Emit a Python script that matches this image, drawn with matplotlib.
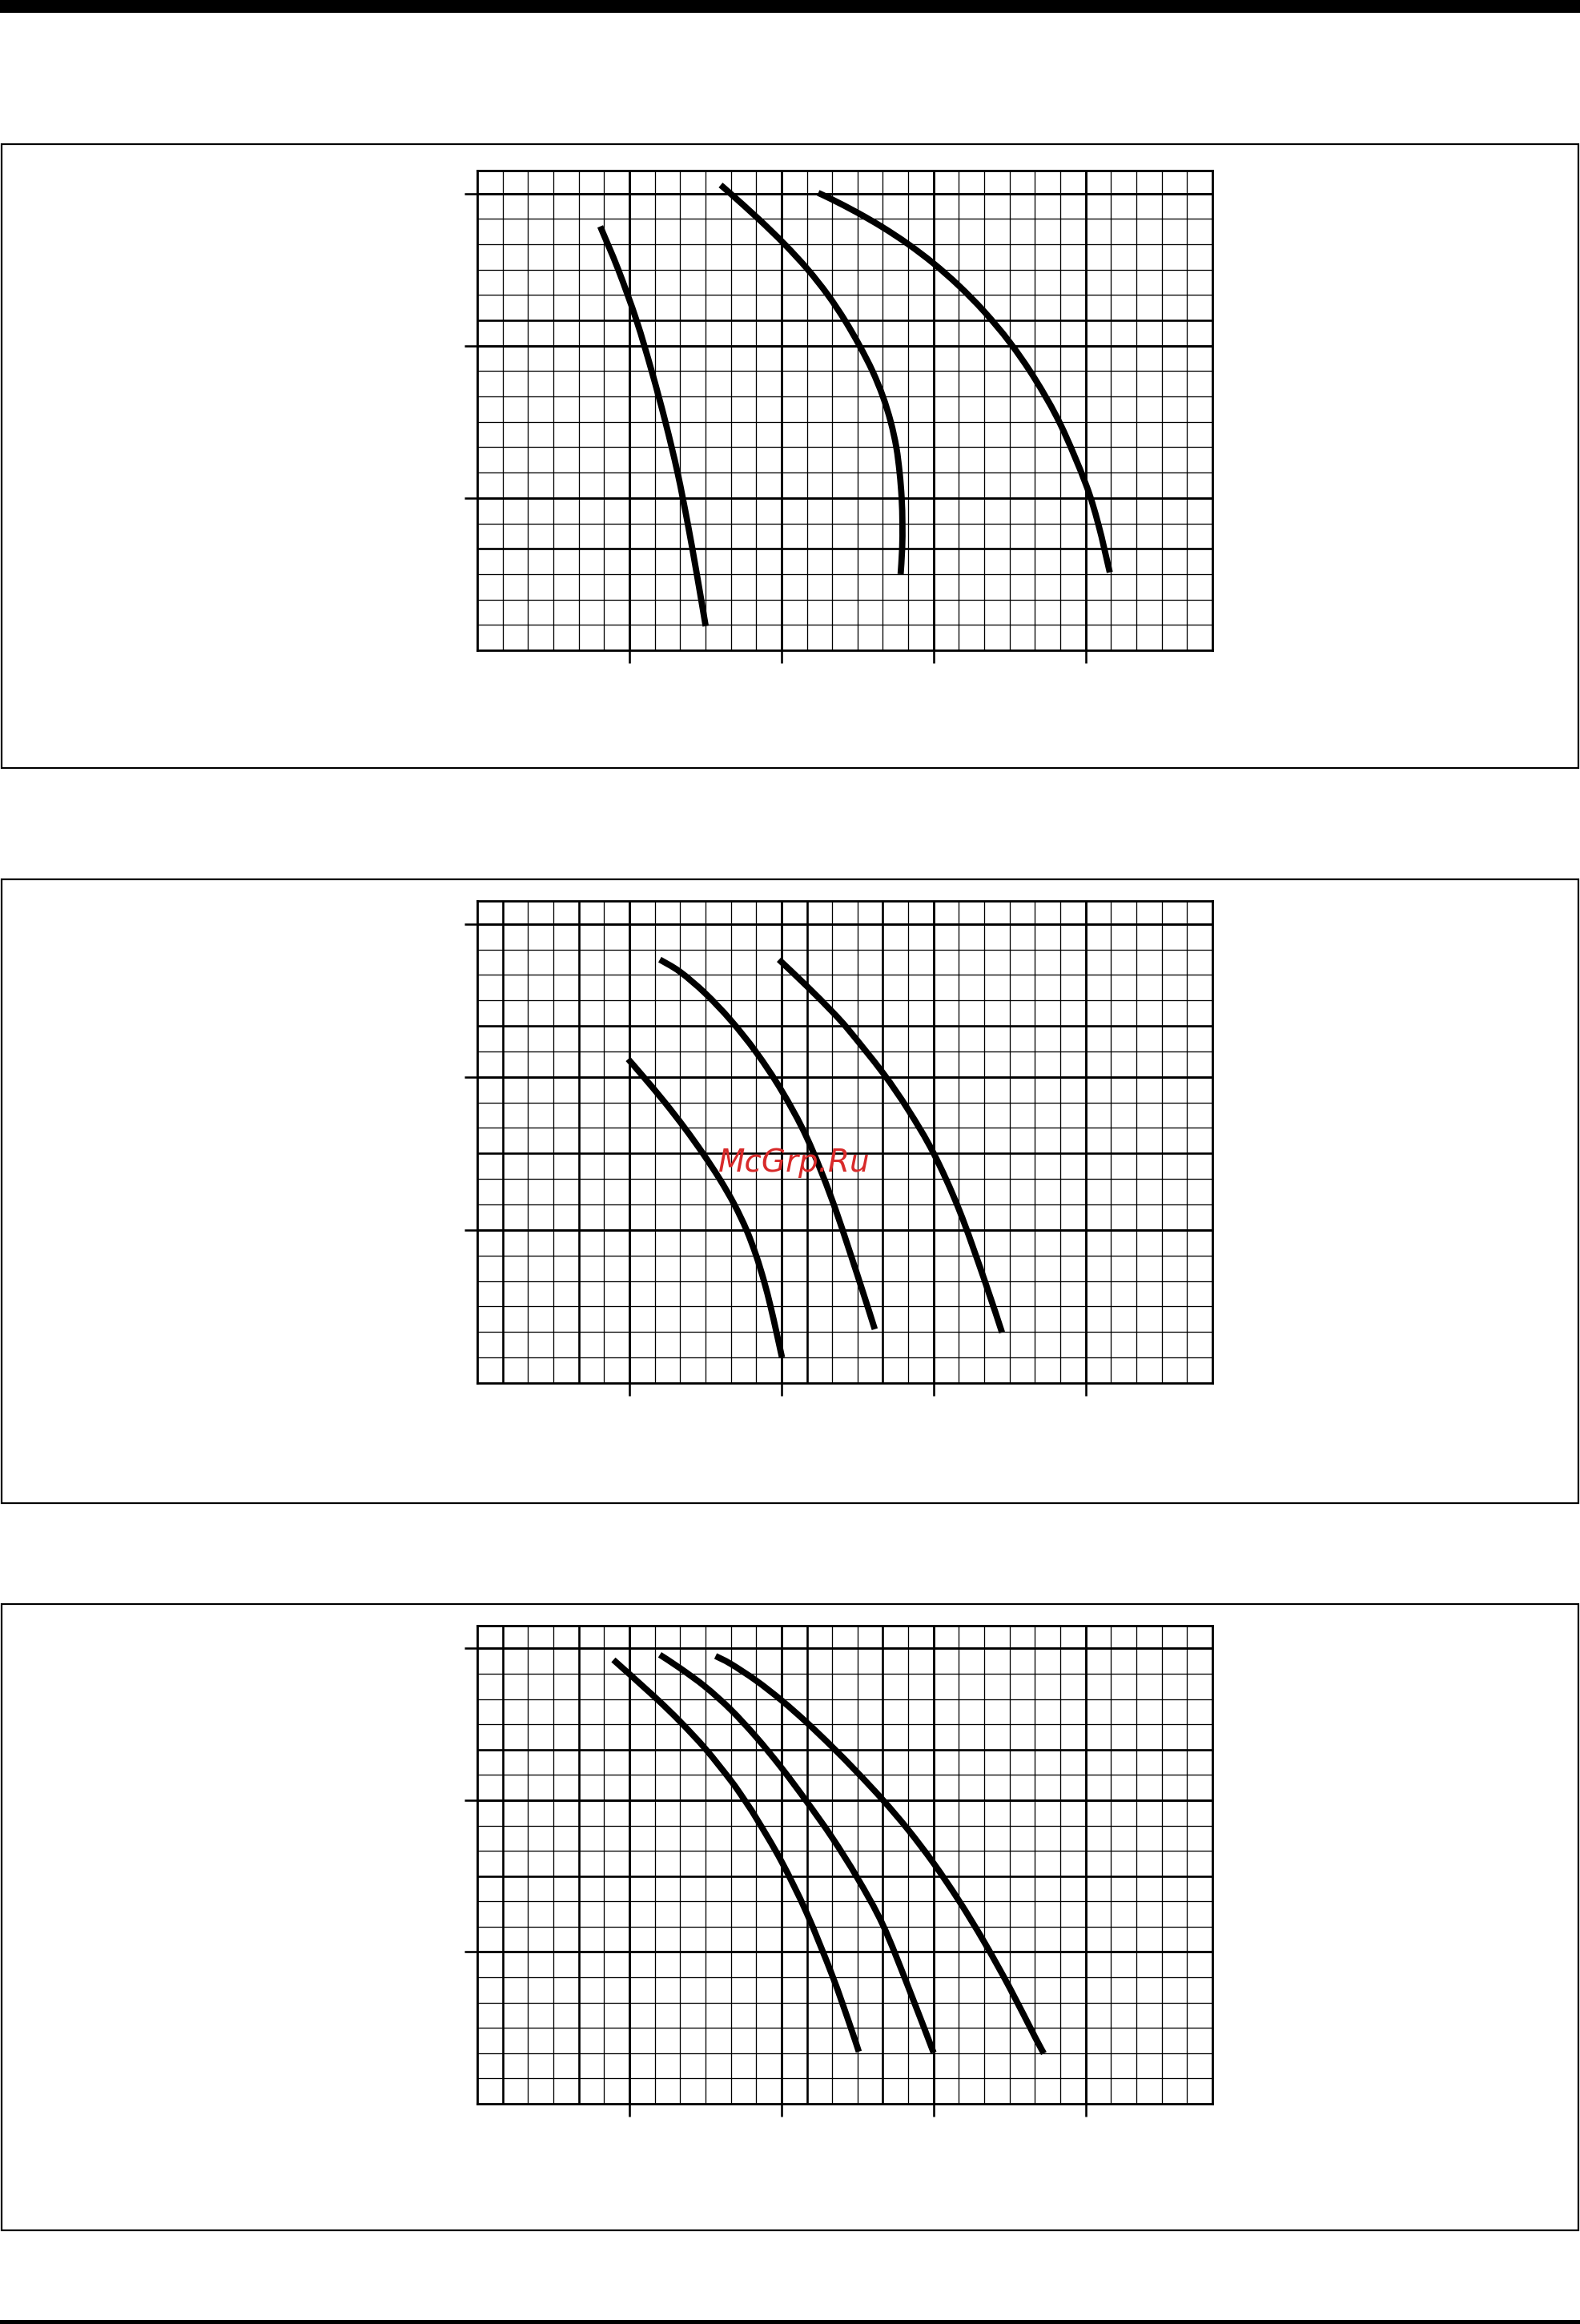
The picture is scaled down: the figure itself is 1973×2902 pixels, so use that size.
import matplotlib
matplotlib.use("Agg")
import matplotlib.pyplot as plt
from matplotlib.patches import Rectangle, PathPatch
from matplotlib.path import Path
import numpy as np

W, H = 1973, 2902

# ---- axis structure (in grid units: one unit = one small square) ----
x_max = 29
y_max = 18.9
x_ticks = [6, 12, 18, 24]
y_ticks = [6, 12, 18]

# heavier grid lines of each chart
c1_thick_x = [6, 12, 18, 24]
c1_thick_y = [4, 6, 12, 13, 18]
c2_thick_x = [1, 4, 6, 12, 13, 16, 18, 24]
c2_thick_y = [6, 9, 12, 14, 18]
c3_thick_x = [1, 4, 6, 12, 13, 16, 18, 24]
c3_thick_y = [6, 9, 12, 14, 18]

# ---- curves, chart 1 ----
c1_a_x = [4.85, 5.56, 6.28, 6.88, 7.42, 7.90, 8.30, 8.66, 9.01]
c1_a_y = [16.7, 15.0, 13.0, 11.0, 9.0, 7.0, 5.0, 3.0, 0.95]
c1_b_x = [9.6, 9.98, 11.09, 12.12, 13.04, 13.83, 14.50, 15.08, 15.59, 16.0, 16.31,
          16.53, 16.66, 16.74, 16.77, 16.76, 16.70]
c1_b_y = [18.33, 18.0, 17.0, 16.0, 15.0, 14.0, 13.0, 12.0, 11.0, 10.0, 9.0,
          8.0, 7.0, 6.0, 5.0, 4.0, 3.0]
c1_c_x = [13.45, 14.0, 15.0, 16.0, 17.0, 18.0, 19.0, 20.0, 21.0, 22.0, 23.0, 24.0, 24.5, 24.95]
c1_c_y = [18.02, 17.76, 17.24, 16.66, 16.0, 15.24, 14.36, 13.34, 12.14, 10.69, 8.91, 6.56, 4.96, 3.07]

# ---- curves, chart 2 ----
c2_a_x = [5.95, 6.56, 7.40, 8.18, 8.90, 9.56, 10.14, 10.62, 11.00, 11.31, 11.57, 11.80, 12.02]
c2_a_y = [12.7, 12.0, 11.0, 10.0, 9.0, 8.0, 7.0, 6.0, 5.0, 4.0, 3.0, 2.0, 1.0]
c2_b_x = [7.2, 8.0, 9.0, 10.0, 11.0, 12.0, 13.0, 14.0, 15.0, 15.68]
c2_b_y = [16.6, 16.12, 15.27, 14.22, 12.97, 11.47, 9.62, 7.17, 4.22, 2.11]
c2_c_x = [11.9, 13.0, 14.0, 14.66, 16.0, 17.0, 18.0, 19.0, 20.0, 20.7]
c2_c_y = [16.6, 15.56, 14.56, 13.83, 12.16, 10.71, 9.01, 6.81, 4.06, 1.98]

# ---- curves, chart 3 ----
c3_a_x = [5.37, 7.0, 8.0, 9.0, 10.0, 10.5, 11.0, 12.0, 13.0, 14.0, 14.66, 15.05]
c3_a_y = [17.55, 16.08, 15.11, 14.03, 12.78, 12.07, 11.30, 9.58, 7.53, 5.08, 3.23, 2.06]
c3_b_x = [7.2, 8.0, 9.0, 10.0, 11.0, 12.0, 13.0, 14.0, 15.0, 16.0, 17.0, 18.0]
c3_b_y = [17.75, 17.22, 16.48, 15.58, 14.50, 13.28, 11.94, 10.52, 8.92, 7.07, 4.62, 2.02]
c3_c_x = [9.4, 10.0, 11.0, 12.0, 13.0, 14.0, 15.0, 16.0, 17.0, 18.0, 19.0, 20.0, 21.0, 22.0, 22.35]
c3_c_y = [17.7, 17.39, 16.73, 15.95, 15.07, 14.11, 13.09, 12.01, 10.83, 9.51, 8.03, 6.39, 4.59, 2.64, 1.99]

watermark = "McGrp.Ru"

# ---- layout (pixels of the page) ----
px = 72.0 / 100.0  # points per pixel at dpi 100

charts = [
    dict(curves=[(c1_a_x, c1_a_y), (c1_b_x, c1_b_y), (c1_c_x, c1_c_y)],
         thick_x=c1_thick_x, thick_y=c1_thick_y,
         ax_px=(596, 213, 1514, 812), box_px=(180, 959)),
    dict(curves=[(c2_a_x, c2_a_y), (c2_b_x, c2_b_y), (c2_c_x, c2_c_y)],
         thick_x=c2_thick_x, thick_y=c2_thick_y,
         ax_px=(596, 1125, 1514, 1727), box_px=(1098, 1877)),
    dict(curves=[(c3_a_x, c3_a_y), (c3_b_x, c3_b_y), (c3_c_x, c3_c_y)],
         thick_x=c3_thick_x, thick_y=c3_thick_y,
         ax_px=(596, 2030, 1514, 2627), box_px=(2003, 2785)),
]


def smooth_path(xs, ys):
    """Cubic Bezier path passing through every read point (Catmull-Rom tangents)."""
    p = np.column_stack([xs, ys]).astype(float)
    n = len(p)
    verts = [p[0]]
    codes = [Path.MOVETO]
    for i in range(n - 1):
        p0 = p[i - 1] if i > 0 else p[i]
        p1 = p[i]
        p2 = p[i + 1]
        p3 = p[i + 2] if i + 2 < n else p[i + 1]
        c1 = p1 + (p2 - p0) / 6.0
        c2 = p2 - (p3 - p1) / 6.0
        verts += [c1, c2, p2]
        codes += [Path.CURVE4] * 3
    return Path(verts, codes)


fig = plt.figure(figsize=(W / 100, H / 100), dpi=100)
fig.patch.set_facecolor("white")

# top black bar and bottom rule
fig.add_artist(Rectangle((0, 1 - 16 / H), 1, 16 / H, transform=fig.transFigure,
                         facecolor="black", edgecolor="none"))
fig.add_artist(Rectangle((0, 0), 1, 5 / H, transform=fig.transFigure,
                         facecolor="black", edgecolor="none"))

for ch in charts:
    x0, y0, x1, y1 = ch["ax_px"]
    bt, bb = ch["box_px"]
    # surrounding frame
    fig.add_artist(Rectangle((1.5 / W, 1 - bb / H), (W - 4) / W, (bb - bt) / H,
                             transform=fig.transFigure, fill=False,
                             edgecolor="black", linewidth=2.2 * px))
    ax = fig.add_axes([x0 / W, 1 - y1 / H, (x1 - x0) / W, (y1 - y0) / H])
    ax.set_xlim(0, x_max)
    ax.set_ylim(0, y_max)
    ax.set_xticks(x_ticks)
    ax.set_yticks(y_ticks)
    ax.set_xticks(range(1, x_max), minor=True)
    ax.set_yticks(range(1, int(y_max) + 1), minor=True)
    ax.set_xticklabels([])
    ax.set_yticklabels([])
    ax.tick_params(which="major", direction="out", length=16 * px,
                   width=2.6 * px, color="black")
    ax.tick_params(which="minor", length=0)
    ax.grid(which="minor", color="black", linewidth=1.3 * px, zorder=1)
    ax.grid(which="major", color="black", linewidth=2.6 * px, zorder=1)
    for xv in ch["thick_x"]:
        ax.axvline(xv, color="black", linewidth=2.6 * px, zorder=1)
    for yv in ch["thick_y"]:
        ax.axhline(yv, color="black", linewidth=2.6 * px, zorder=1)
    ax.set_axisbelow(True)
    for s in ax.spines.values():
        s.set_linewidth(2.8 * px)
        s.set_color("black")
    for cx, cy in ch["curves"]:
        patch = PathPatch(smooth_path(cx, cy), facecolor="none", edgecolor="black",
                          linewidth=7.8 * px, capstyle="butt", joinstyle="round",
                          zorder=3)
        ax.add_patch(patch)

fig.text(992 / W, 1 - 1452 / H, watermark, color="#d82a2a", fontsize=28,
         style="italic", family="DejaVu Sans", ha="center", va="center",
         zorder=10)

fig.savefig("out.png", dpi=100, facecolor="white")
